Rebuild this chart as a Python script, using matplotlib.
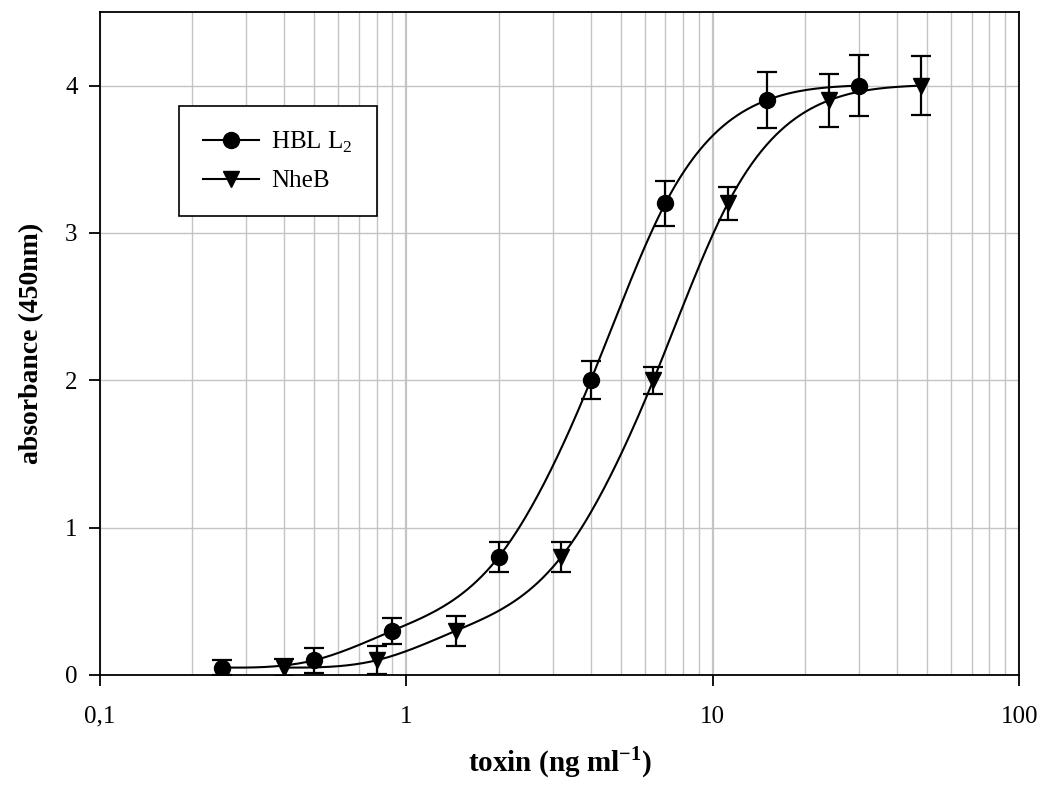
import matplotlib
matplotlib.use("Agg")
import matplotlib.pyplot as plt
import numpy as np
from matplotlib.lines import Line2D

plt.rcParams['font.family'] = ['Liberation Serif', 'DejaVu Serif']
plt.rcParams['mathtext.fontset'] = 'custom'
plt.rcParams['mathtext.rm'] = 'Liberation Serif'
plt.rcParams['mathtext.bf'] = 'Liberation Serif:bold'

# Daten
hbl_x = [0.25, 0.5, 0.9, 2.0, 4.0, 7.0, 15.0, 30.0]
hbl_y = [0.05, 0.10, 0.30, 0.80, 2.00, 3.20, 3.90, 4.00]
hbl_err = [0.05, 0.085, 0.09, 0.10, 0.13, 0.15, 0.19, 0.21]

nhe_x = [0.4, 0.8, 1.45, 3.2, 6.4, 11.2, 24.0, 48.0]
nhe_y = [0.05, 0.10, 0.30, 0.80, 2.00, 3.20, 3.90, 4.00]
nhe_err = [0.06, 0.095, 0.10, 0.10, 0.09, 0.11, 0.18, 0.20]

x_ticks = [0.1, 1, 10, 100]
x_tick_labels = ['0,1', '1', '10', '100']
y_ticks = [0, 1, 2, 3, 4]


def natural_spline(xk, yk, xs):
    # natuerlicher kubischer Spline durch die Messpunkte
    xk = np.asarray(xk, float)
    yk = np.asarray(yk, float)
    n = len(xk)
    h = np.diff(xk)
    A = np.zeros((n, n))
    r = np.zeros(n)
    A[0, 0] = A[-1, -1] = 1.0
    for i in range(1, n - 1):
        A[i, i - 1] = h[i - 1]
        A[i, i] = 2 * (h[i - 1] + h[i])
        A[i, i + 1] = h[i]
        r[i] = 6 * ((yk[i + 1] - yk[i]) / h[i] - (yk[i] - yk[i - 1]) / h[i - 1])
    M = np.linalg.solve(A, r)
    idx = np.clip(np.searchsorted(xk, xs) - 1, 0, n - 2)
    x0, x1 = xk[idx], xk[idx + 1]
    hh = h[idx]
    a = (x1 - xs) / hh
    b = (xs - x0) / hh
    return (a * yk[idx] + b * yk[idx + 1]
            + ((a**3 - a) * M[idx] + (b**3 - b) * M[idx + 1]) * hh**2 / 6)


def smooth(xv, yv):
    lx = np.log10(xv)
    xs = np.linspace(lx[0], lx[-1], 400)
    return 10**xs, natural_spline(lx, yv, xs)


fig = plt.figure(figsize=(10.41, 7.89), dpi=100)
ax = fig.add_axes([0.096, 0.1445, 0.883, 0.8405])

ax.set_xscale('log')
ax.set_xlim(0.1, 100)
ax.set_ylim(0, 4.5)

ax.grid(True, which='major', axis='x', color='#c4c4c4', linewidth=1.6, zorder=0)
ax.grid(True, which='minor', axis='x', color='#c4c4c4', linewidth=1.0, zorder=0)
ax.grid(True, which='major', axis='y', color='#c4c4c4', linewidth=1.0, zorder=0)
ax.set_axisbelow(True)

cx, cy = smooth(hbl_x, hbl_y)
ax.plot(cx, cy, color='black', linewidth=1.5, zorder=3)
cx, cy = smooth(nhe_x, nhe_y)
ax.plot(cx, cy, color='black', linewidth=1.5, zorder=3)

ax.errorbar(hbl_x, hbl_y, yerr=hbl_err, fmt='o', color='black', markersize=11.5,
            ecolor='black', elinewidth=1.6, capsize=7.5, capthick=1.6, zorder=4)
ax.errorbar(nhe_x, nhe_y, yerr=nhe_err, fmt='v', color='black', markersize=12,
            ecolor='black', elinewidth=1.6, capsize=7.5, capthick=1.6, zorder=4)

ax.set_xticks(x_ticks)
ax.set_xticklabels(x_tick_labels)
ax.xaxis.set_minor_formatter(plt.NullFormatter())
ax.set_yticks(y_ticks)
ax.tick_params(axis='both', which='major', direction='out', length=8, width=1.3,
               labelsize=18, pad=8)
ax.tick_params(axis='x', which='minor', length=0)
ax.tick_params(axis='x', which='major', pad=14)

for sp in ax.spines.values():
    sp.set_linewidth(1.3)

ax.set_xlabel('toxin (ng ml$^{\\mathbf{-1}}$)', fontsize=21, fontweight='bold', labelpad=12)
ax.set_ylabel('absorbance (450nm)', fontsize=20, fontweight='bold', labelpad=15)

handles = [
    Line2D([], [], color='black', marker='o', markersize=11.5, linewidth=1.5),
    Line2D([], [], color='black', marker='v', markersize=12, linewidth=1.5),
]
leg = ax.legend(handles, ['HBL L$_2$', 'NheB'], loc='upper left',
                bbox_to_anchor=(0.086, 0.858), borderaxespad=0, fontsize=18,
                frameon=True, fancybox=False, edgecolor='black', framealpha=1,
                borderpad=0.95, handlelength=2.25, handletextpad=0.5,
                labelspacing=0.6)
leg.get_frame().set_linewidth(1.2)

fig.savefig('out.png', dpi=100)
